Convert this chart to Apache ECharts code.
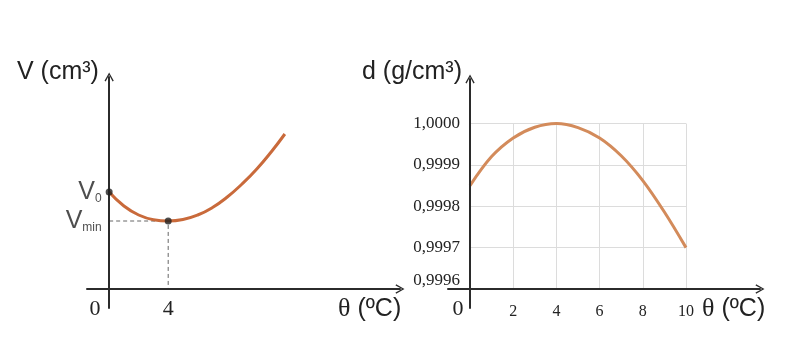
<!DOCTYPE html>
<html><head><meta charset="utf-8">
<script src="https://cdn.jsdelivr.net/npm/echarts@6/dist/echarts.min.js"></script>
<style>html,body{margin:0;padding:0;background:#fff}#c{width:786px;height:354px}</style>
</head><body><div id="c"></div>
<script>
// Left chart: volume vs temperature (qualitative units)
const volTemps = [0, 1, 2, 3, 4, 5, 6, 7, 8, 9, 10, 11, 11.9];
const volValues = [9.7, 8.3, 7.4, 6.93, 6.8, 6.95, 7.4, 8.15, 9.2, 10.5, 12.0, 13.75, 15.5];
const v0 = 9.7;
const vMin = 6.8;
const tMin = 4;
// Right chart: density vs temperature
const denTemps = [0, 1, 2, 3, 4, 5, 6, 7, 8, 9, 10];
const denValues = [0.99985, 0.99992, 0.999965, 0.999991, 1.0000, 0.99999, 0.999965, 0.999922, 0.999862, 0.999786, 0.99970];
const denTickLabels = ['0,9996', '0,9997', '0,9998', '0,9999', '1,0000'];
const tempTickLabels = ['2', '4', '6', '8', '10'];
const texts = { vTitle: 'V (cm³)', dTitle: 'd (g/cm³)', theta: 'θ', unit: ' (ºC)', zero: '0' };

const axisColor = '#2b2b2b';
const textColor = '#222';
const SANS = '"Liberation Sans", Arial, sans-serif';
const SERIF = '"Liberation Serif", "Times New Roman", serif';
const arrow = 'path://M0,9 L5,0 L10,9 L8.7,9.7 L5,2.6 L1.3,9.7 Z';

function frameAxisLine() {
  return { show: true, onZero: true, symbol: ['none', arrow], symbolSize: [11, 9],
    lineStyle: { color: axisColor, width: 2 } };
}

const chart = echarts.init(document.getElementById('c'), null, { renderer: 'canvas' });
const option = {
  backgroundColor: '#fff',
  animation: false,
  grid: [
    { left: 87, top: 77, width: 313, height: 231 },
    { left: 448, top: 79, width: 312, height: 229 },
    { left: 470, top: 123.5, width: 216, height: 165.5 }
  ],
  xAxis: [
    { gridIndex: 0, type: 'value', min: -1.5, max: 19.7, interval: 0.5, z: 5,
      axisLine: frameAxisLine(), axisTick: { show: false }, splitLine: { show: false },
      axisLabel: { interval: 0, margin: -9.5, fontFamily: SERIF, fontSize: 22, color: textColor,
        showMinLabel: false, showMaxLabel: false,
        formatter: v => (Math.abs(v - tMin) < 1e-9 ? String(tMin) : '') } },
    { gridIndex: 1, type: 'value', min: -1.02, max: 13.43, z: 5,
      axisLine: frameAxisLine(), axisTick: { show: false }, splitLine: { show: false },
      axisLabel: { show: false } },
    { gridIndex: 2, type: 'value', min: 0, max: 10, interval: 2, z: 1,
      axisLine: { show: false }, axisTick: { show: false },
      splitLine: { show: true, lineStyle: { color: '#dcdcdc', width: 1 } },
      axisLabel: { margin: 15, fontFamily: SERIF, fontSize: 16, color: textColor,
        formatter: (v, i) => (v === 0 ? '' : tempTickLabels[i - 1]) } }
  ],
  yAxis: [
    { gridIndex: 0, type: 'value', min: -1.9, max: 21.2, z: 5,
      axisLine: frameAxisLine(), axisTick: { show: false }, splitLine: { show: false },
      axisLabel: { show: false } },
    { gridIndex: 1, type: 'value', min: -1.9, max: 21.0, z: 5,
      axisLine: frameAxisLine(), axisTick: { show: false }, splitLine: { show: false },
      axisLabel: { show: false } },
    { gridIndex: 2, type: 'value', min: 0.9996, max: 1.0000, interval: 0.0001, z: 1,
      axisLine: { show: false }, axisTick: { show: false },
      splitLine: { show: true, lineStyle: { color: '#dcdcdc', width: 1 } },
      axisLabel: { margin: 10, fontFamily: SERIF, fontSize: 17, color: textColor,
        formatter: (v, i) => (i === 0 ? '{lift|' + denTickLabels[i] + '}' : denTickLabels[i]),
        rich: { lift: { padding: [0, 0, 16, 0], fontFamily: SERIF, fontSize: 17, color: textColor } } } }
  ],
  series: [
    { type: 'line', xAxisIndex: 0, yAxisIndex: 0, smooth: true, showSymbol: false, z: 3,
      data: volTemps.map((t, i) => [t, volValues[i]]),
      lineStyle: { color: '#C96A3B', width: 3 } },
    { type: 'line', xAxisIndex: 0, yAxisIndex: 0, symbol: 'none', z: 2,
      data: [[0, vMin], [tMin, vMin], [tMin, 0]],
      lineStyle: { color: '#666', width: 1, type: [4, 3] } },
    { type: 'scatter', xAxisIndex: 0, yAxisIndex: 0, symbolSize: 7, z: 6,
      itemStyle: { color: '#222' },
      data: [
        { value: [0, v0], label: { show: true, position: 'left', distance: 4,
          formatter: '{v|V}{s|0}',
          rich: { v: { fontFamily: SANS, fontSize: 25, color: textColor },
                  s: { fontFamily: SANS, fontSize: 12, color: textColor, verticalAlign: 'bottom', lineHeight: 8 } } } },
        { value: [tMin, vMin] }
      ] },
    { type: 'scatter', xAxisIndex: 0, yAxisIndex: 0, symbolSize: 1, z: 6,
      itemStyle: { color: 'rgba(0,0,0,0)' },
      data: [
        { value: [0, vMin], label: { show: true, position: 'left', distance: 7,
          formatter: '{v|V}{s|min}',
          rich: { v: { fontFamily: SANS, fontSize: 25, color: textColor },
                  s: { fontFamily: SANS, fontSize: 12, color: textColor, verticalAlign: 'bottom', lineHeight: 8 } } } }
      ] },
    { type: 'line', xAxisIndex: 2, yAxisIndex: 2, smooth: 0.35, showSymbol: false, z: 3,
      data: denTemps.map((t, i) => [t, denValues[i]]),
      lineStyle: { color: '#D38B5B', width: 3 } }
  ],
  graphic: [
    { type: 'text', x: 17, y: 72, style: { text: texts.vTitle, font: '25px ' + SANS, fill: textColor, textAlign: 'left', textVerticalAlign: 'middle' } },
    { type: 'text', x: 362, y: 72.5, style: { text: texts.dTitle, font: '25px ' + SANS, fill: textColor, textAlign: 'left', textVerticalAlign: 'middle' } },
    { type: 'text', x: 338, y: 309, style: { text: '{t|' + texts.theta + '}' + texts.unit, font: '25px ' + SANS, fill: textColor, textAlign: 'left', textVerticalAlign: 'middle',
        rich: { t: { fontFamily: SERIF, fontSize: 26, color: textColor } } } },
    { type: 'text', x: 702, y: 309, style: { text: '{t|' + texts.theta + '}' + texts.unit, font: '25px ' + SANS, fill: textColor, textAlign: 'left', textVerticalAlign: 'middle',
        rich: { t: { fontFamily: SERIF, fontSize: 26, color: textColor } } } },
    { type: 'text', x: 95, y: 309.5, style: { text: texts.zero, font: '22px ' + SERIF, fill: textColor, textAlign: 'center', textVerticalAlign: 'middle' } },
    { type: 'text', x: 458, y: 309.5, style: { text: texts.zero, font: '22px ' + SERIF, fill: textColor, textAlign: 'center', textVerticalAlign: 'middle' } }
  ]
};
chart.setOption(option);
</script>
</body></html>
